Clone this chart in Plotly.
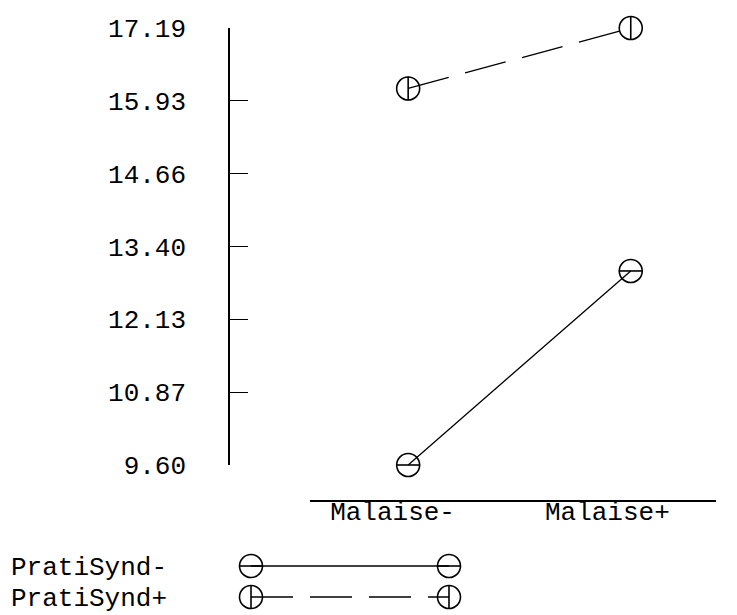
import plotly.graph_objects as go

# ---- data ----
categories = ["Malaise-", "Malaise+"]
series_names = ["PratiSynd-", "PratiSynd+"]
pratisynd_minus = [9.60, 12.97]
pratisynd_plus = [16.14, 17.19]
tick_vals = [9.60, 10.865, 12.13, 13.395, 14.66, 15.925, 17.19]
tick_text = ["9.60", "10.87", "12.13", "13.40", "14.66", "15.93", "17.19"]

W, H = 737, 615
FONT = "Liberation Mono, Courier New, monospace"
FS = 26

series = [pratisynd_minus, pratisynd_plus]
dashes = ["solid", "42px,17px"]
inner = ["line-ew-open", "line-ns-open"]

fig = go.Figure()
xpos = list(range(len(categories)))
# category labels sit a little left of their points in the reference
cat_labels = [categories[0] + "\u00a0\u00a0", categories[1] + "\u00a0\u00a0\u00a0"]


def add_series(xs, ys, dash, sym, xa, ya):
    fig.add_trace(go.Scatter(x=xs, y=ys, mode="lines", line=dict(color="black", width=1.3, dash=dash),
                             xaxis=xa, yaxis=ya, showlegend=False, cliponaxis=False, hoverinfo="skip"))
    fig.add_trace(go.Scatter(x=xs, y=ys, mode="markers",
                             marker=dict(symbol="circle-open", size=23, color="black",
                                         line=dict(width=1.6, color="black")),
                             xaxis=xa, yaxis=ya, showlegend=False, cliponaxis=False))
    fig.add_trace(go.Scatter(x=xs, y=ys, mode="markers",
                             marker=dict(symbol=sym, size=17, color="black",
                                         line=dict(width=1.6, color="black")),
                             xaxis=xa, yaxis=ya, showlegend=False, cliponaxis=False, hoverinfo="skip"))


for vals, dash, sym in zip(series, dashes, inner):
    add_series(xpos, vals, dash, sym, "x", "y")

# ---- legend drawn as a small subplot ----
for i, (dash, sym) in enumerate(zip(dashes, inner)):
    add_series([0, 1], [i, i], dash, sym, "x2", "y2")


def px_x(p):
    return p / W


def px_y(p):
    return (H - p) / H


fig.update_layout(
    width=W, height=H,
    margin=dict(l=0, r=0, t=0, b=0),
    paper_bgcolor="white", plot_bgcolor="white",
    font=dict(family=FONT, size=FS, color="black"),
    xaxis=dict(domain=[px_x(310), px_x(716)], anchor="free", position=px_y(501),
               range=[-0.441, 1.383], tickvals=xpos, ticktext=cat_labels,
               showline=True, linecolor="black", linewidth=1.5, ticks="",
               ticklabelstandoff=-13,
               showgrid=False, zeroline=False, automargin=False,
               tickfont=dict(family=FONT, size=FS)),
    yaxis=dict(domain=[px_y(465), px_y(28)], anchor="free", position=px_x(229),
               range=[9.60, 17.19], tickvals=tick_vals, ticktext=tick_text,
               showline=True, linecolor="black", linewidth=1.5,
               ticks="inside", ticklen=18, tickwidth=1.2, tickcolor="black",
               ticklabelstandoff=37, automargin=False,
               showgrid=False, zeroline=False, tickfont=dict(family=FONT, size=FS)),
    xaxis2=dict(domain=[px_x(251), px_x(449)], anchor="y2", range=[0, 1],
                visible=False, showgrid=False, zeroline=False, automargin=False),
    yaxis2=dict(domain=[px_y(601.65), px_y(559.8)], anchor="free", position=0,
                range=[1.15, -0.2], tickvals=[0, 1], ticktext=series_names,
                side="right", showline=False, ticks="", showgrid=False, zeroline=False,
                ticklabelstandoff=10, automargin=False, ticklabeloverflow="allow",
                tickfont=dict(family=FONT, size=FS)),
)

fig.write_html("out.html")
